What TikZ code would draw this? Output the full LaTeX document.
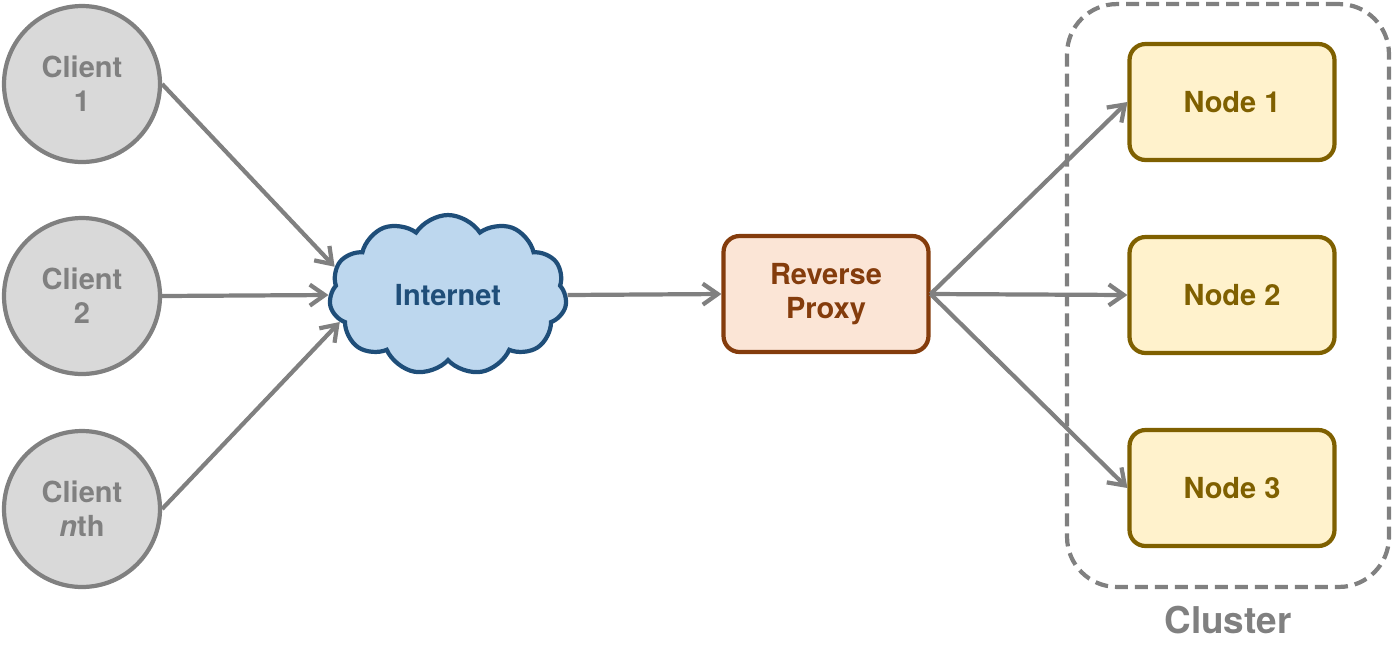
\documentclass[tikz,border=0pt]{standalone}
\usepackage{fontspec}
\setmainfont{TeX Gyre Heros}
\usetikzlibrary{shapes.symbols,arrows.meta}

\definecolor{linegray}{HTML}{808080}
\definecolor{clientfill}{HTML}{D9D9D9}
\definecolor{netfill}{HTML}{BDD7EE}
\definecolor{netline}{HTML}{1F4E79}
\definecolor{proxyfill}{HTML}{FBE5D6}
\definecolor{proxyline}{HTML}{843C0C}
\definecolor{nodefill}{HTML}{FFF2CC}
\definecolor{nodeline}{HTML}{7F6000}

\begin{document}
\begin{tikzpicture}[x=0.02cm,y=-0.02cm,
    every node/.style={font=\bfseries\fontsize{16.5}{19.5}\selectfont, align=center},
    client/.style={circle, draw=linegray, fill=clientfill, line width=2.4pt,
        minimum size=3.12cm, text=linegray},
    net/.style={cloud, cloud puffs=11, cloud puff arc=115, cloud ignores aspect,
        draw=netline, fill=netfill, line width=2.4pt,
        minimum width=4.75cm, minimum height=3.2cm, text=netline},
    box/.style={rectangle, rounded corners=0.32cm, line width=2.4pt,
        minimum width=4.1cm, minimum height=2.32cm},
    link/.style={draw=linegray, line width=2.4pt,
        arrows={-Straight Barb[length=0.3cm, width=0.42cm]}}]
    \useasboundingbox (0,0) rectangle (1393,664);

    \node[client] (c1) at (82,84) {Client\\1};
    \node[client] (c2) at (82,296) {Client\\2};
    \node[client] (cn) at (82,509) {Client\\\textit{n}th};

    \node[net] (net) at (448,295) {Internet};

    \node[box, draw=proxyline, fill=proxyfill, text=proxyline] (proxy) at (826,294) {Reverse\\Proxy};

    \node[rectangle, rounded corners=1cm, draw=linegray, line width=2.4pt,
        dash pattern=on 0.26cm off 0.14cm, minimum width=6.44cm, minimum height=11.66cm] (cluster) at (1228,295.5) {};
    \node[text=linegray, font=\bfseries\fontsize{21}{25}\selectfont] (clusterlabel) at (1228,620) {Cluster};

    \node[box, draw=nodeline, fill=nodefill, text=nodeline] (n1) at (1232,102) {Node 1};
    \node[box, draw=nodeline, fill=nodefill, text=nodeline] (n2) at (1232,295) {Node 2};
    \node[box, draw=nodeline, fill=nodefill, text=nodeline] (n3) at (1232,488) {Node 3};

    \draw[link] (c1.east) -- (net.166);
    \draw[link] (c2.east) -- (net.west);
    \draw[link] (cn.east) -- (net.194);
    \draw[link] (net.east) -- (proxy.west);
    \draw[link] (proxy.east) -- (n1.west);
    \draw[link] (proxy.east) -- (n2.west);
    \draw[link] (proxy.east) -- (n3.west);
\end{tikzpicture}
\end{document}
